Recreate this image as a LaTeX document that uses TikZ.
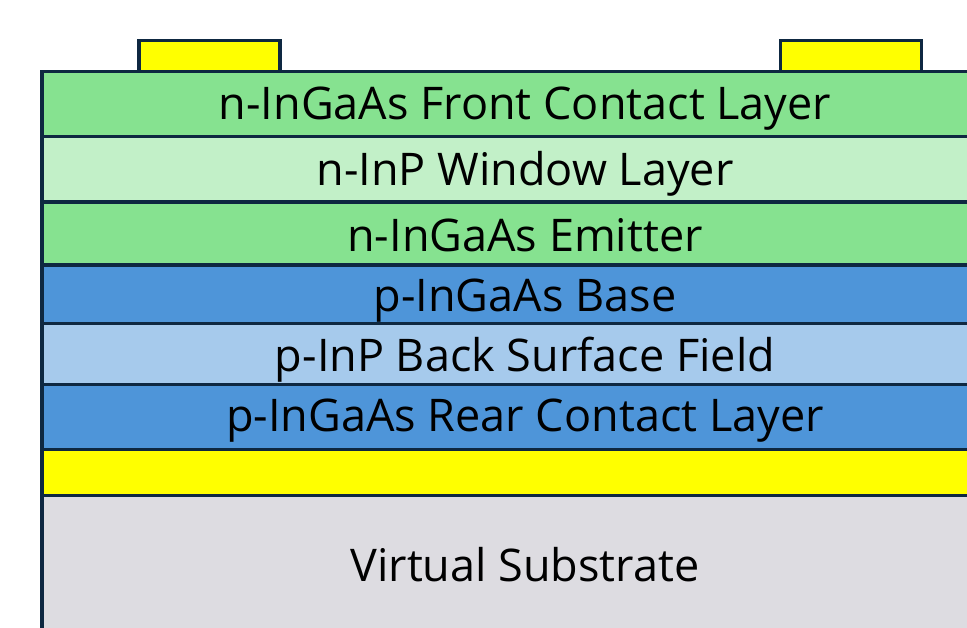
\documentclass[tikz,border=0pt]{standalone}
\usepackage{fontspec}
\setmainfont{Open Sans}
\definecolor{edge}{HTML}{0E2841}
\definecolor{greenA}{HTML}{86E290}
\definecolor{greenB}{HTML}{C2F0C8}
\definecolor{blueA}{HTML}{4E95D9}
\definecolor{blueB}{HTML}{A6CAEC}
\definecolor{grayS}{HTML}{DDDCE1}
\definecolor{goldC}{HTML}{FFFF00}
\tikzset{
  layer/.style={draw=edge, line width=3.5pt, rectangle, minimum width=966pt, inner sep=0pt, outer sep=0pt, anchor=north},
  lbl/.style={inner sep=0pt, anchor=base, text=black, font=\fontsize{45}{54}\selectfont},
  contact/.style={draw=edge, line width=3.5pt, fill=goldC, rectangle, inner sep=0pt, outer sep=0pt, minimum width=141pt, minimum height=31pt, anchor=south}
}
\begin{document}
\begin{tikzpicture}[x=1pt,y=-1pt]
\useasboundingbox (0,0) rectangle (967,628);
\clip (0,0) rectangle (967,628);
\node[contact] (c1) at (209.5,71.5) {};
\node[contact] (c2) at (851,71.5) {};
\node[layer, fill=grayS, minimum height=160pt] (sub) at (525,495.5) {};
\node[layer, fill=goldC, minimum height=46pt] (gold) at (525,449.5) {};
\node[layer, fill=blueA, minimum height=65pt] (rear) at (525,384.5) {};
\node[layer, fill=blueB, minimum height=61pt] (bsf) at (525,323.5) {};
\node[layer, fill=blueA, minimum height=58.5pt] (base) at (525,265) {};
\node[layer, fill=greenA, minimum height=63pt] (emit) at (525,202) {};
\node[layer, fill=greenB, minimum height=65.5pt] (win) at (525,136.5) {};
\node[layer, fill=greenA, minimum height=65pt] (front) at (525,71.5) {};
\node[lbl] (tfront) at (525,120) {n-InGaAs Front Contact Layer};
\node[lbl] (twin) at (525,186) {n-InP Window Layer};
\node[lbl] (temit) at (525,252) {n-InGaAs Emitter};
\node[lbl] (tbase) at (525,312) {p-InGaAs Base};
\node[lbl] (tbsf) at (525,372) {p-InP Back Surface Field};
\node[lbl] (trear) at (525,431) {p-InGaAs Rear Contact Layer};
\node[lbl] (tsub) at (525,581) {Virtual Substrate};
\end{tikzpicture}
\end{document}
